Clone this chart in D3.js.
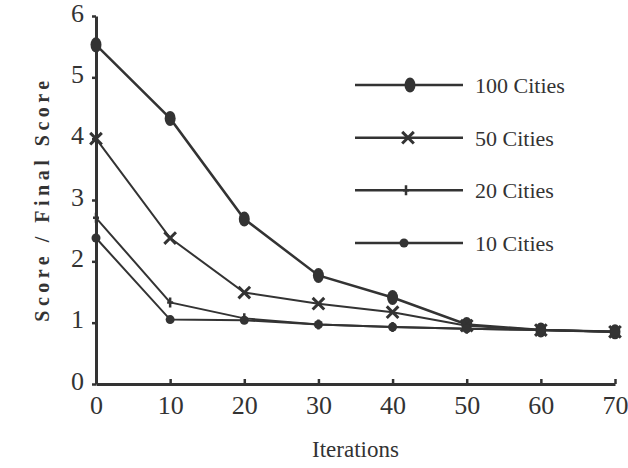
<!doctype html>
<html lang="en">
<head>
    <meta charset="utf-8">
    <title>Score / Final Score vs Iterations</title>
    <script src="https://d3js.org/d3.v7.min.js"></script>
    <style>
        body { margin: 0; background: #fff; }
        text { font-family: "Liberation Serif", "DejaVu Serif", serif; fill: #333; }
    </style>
</head>
<body>
    <div id="chart"></div>
    <script>
        // data
        var iterations = [0, 10, 20, 30, 40, 50, 60, 70]
        var cities100 = [5.53, 4.33, 2.69, 1.77, 1.41, 0.97, 0.88, 0.85]
        var cities50 = [4.0, 2.38, 1.49, 1.31, 1.17, 0.95, 0.88, 0.85]
        var cities20 = [2.71, 1.33, 1.07, 0.97, 0.93, 0.90, 0.88, 0.85]
        var cities10 = [2.38, 1.05, 1.04, 0.97, 0.93, 0.90, 0.88, 0.85]
        var seriesNames = ["100 Cities", "50 Cities", "20 Cities", "10 Cities"]
        var xTicks = [0, 10, 20, 30, 40, 50, 60, 70]
        var yTicks = [0, 1, 2, 3, 4, 5, 6]

        var width = 628
        var height = 468
        var ink = "#333"

        var svg = d3.select("#chart")
            .append("svg")
            .attr("width", width)
            .attr("height", height)

        var x = d3.scaleLinear().domain([0, 70]).range([96, 615])
        var y = d3.scaleLinear().domain([0, 6]).range([384, 16])

        // axes
        var xAxis = svg.append("g")
            .attr("transform", "translate(0," + y(0) + ")")
            .call(d3.axisBottom(x).tickValues(xTicks).tickFormat(d3.format("d"))
                .tickSize(-5).tickPadding(12).tickSizeOuter(0))
        var yAxis = svg.append("g")
            .attr("transform", "translate(" + x(0) + ",0)")
            .call(d3.axisLeft(y).tickValues(yTicks).tickFormat(d3.format("d"))
                .tickSize(4).tickPadding(8).tickSizeOuter(0))

        ;[xAxis, yAxis].forEach(function (g) {
            g.select(".domain").attr("stroke", ink).attr("stroke-width", 3)
            g.selectAll(".tick line").attr("stroke", ink).attr("stroke-width", 2.5)
            g.selectAll("text").attr("fill", ink).style("font-size", "26px")
        })
        yAxis.selectAll(".tick text").attr("dy", "0.2em")

        svg.append("text")
            .attr("x", (x(0) + x(70)) / 2)
            .attr("y", 457)
            .attr("text-anchor", "middle")
            .style("font-size", "23px")
            .text("Iterations")

        svg.append("text")
            .attr("transform", "translate(49," + 199 + ") rotate(-90)")
            .attr("text-anchor", "middle")
            .style("font-size", "20px")
            .style("font-weight", "bold")
            .style("letter-spacing", "4.5px")
            .text("Score / Final Score")

        // markers
        function drawMarker(g, kind) {
            if (kind === 0) {
                g.append("ellipse").attr("rx", 5.5).attr("ry", 7.5).attr("fill", ink)
            } else if (kind === 1) {
                g.append("path").attr("d", d3.symbol(d3.symbolTimes, 90)())
                    .attr("fill", "none").attr("stroke", ink).attr("stroke-width", 3)
            } else if (kind === 2) {
                g.append("path").attr("d", "M0,-5V5M-3,0H3")
                    .attr("stroke", ink).attr("stroke-width", 2.5)
            } else {
                g.append("circle").attr("r", 4.5).attr("fill", ink)
            }
        }

        var allSeries = [cities100, cities50, cities20, cities10]
        var line = d3.line()
            .x(function (d, i) { return x(iterations[i]) })
            .y(function (d) { return y(d) })

        allSeries.forEach(function (vals, k) {
            svg.append("path")
                .attr("d", line(vals))
                .attr("fill", "none")
                .attr("stroke", ink)
                .attr("stroke-width", k === 0 ? 2.5 : 2)
            vals.forEach(function (v, i) {
                var g = svg.append("g").attr("transform", "translate(" + x(iterations[i]) + "," + y(v) + ")")
                drawMarker(g, k)
            })
        })

        // legend
        var legendY = d3.scalePoint().domain(seriesNames).range([85, 243])
        seriesNames.forEach(function (name, k) {
            var ly = legendY(name)
            svg.append("line")
                .attr("x1", 355).attr("x2", 463)
                .attr("y1", ly).attr("y2", ly)
                .attr("stroke", ink).attr("stroke-width", 2.5)
            var g = svg.append("g").attr("transform", "translate(" + (410 - k * 2) + "," + ly + ")")
            drawMarker(g, k)
            svg.append("text")
                .attr("x", 475).attr("y", ly + 8)
                .style("font-size", "22px")
                .text(name)
        })
    </script>
</body>
</html>
